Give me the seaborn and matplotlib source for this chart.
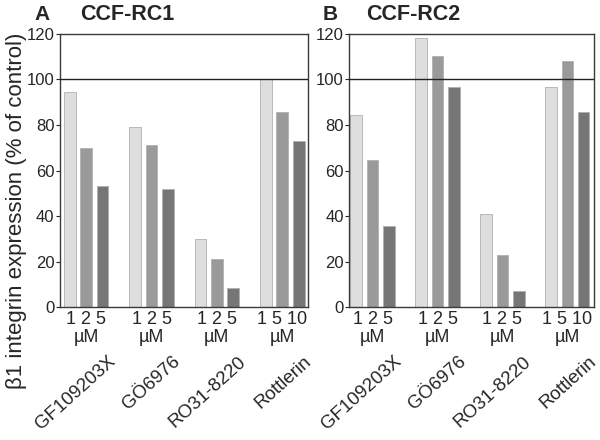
import numpy as np
import pandas as pd
import matplotlib
matplotlib.use("Agg")
import matplotlib.pyplot as plt
import seaborn as sns

# ---------------------------------------------------------
# Data
# ---------------------------------------------------------
drugs = ["GF109203X", "GÖ6976", "RO31-8220", "Rottlerin"]
dose_labels = ["1 2 5\nµM", "1 2 5\nµM", "1 2 5\nµM", "1 5 10\nµM"]
dose_slots = ["low", "mid", "high"]

rc1_values = [
    [94.5, 70, 53],
    [79, 71, 52],
    [30, 21, 8.5],
    [100, 85.5, 73],
]
rc2_values = [
    [84.5, 64.5, 35.5],
    [118, 110.5, 96.5],
    [41, 23, 7],
    [96.5, 108, 85.5],
]

panels = [("A", "CCF-RC1", rc1_values), ("B", "CCF-RC2", rc2_values)]
bar_colors = ["#dedede", "#9a9a9a", "#767676"]


def to_long(values):
    rows = []
    for drug, vals in zip(drugs, values):
        for slot, v in zip(dose_slots, vals):
            rows.append({"drug": drug, "dose": slot, "value": v})
    return pd.DataFrame(rows)


# ---------------------------------------------------------
# Plot
# ---------------------------------------------------------
sns.set_style("white")
plt.rcParams["font.family"] = ["Liberation Sans", "DejaVu Sans"]

fig = plt.figure(figsize=(6, 4.4), dpi=100)
axes = [fig.add_axes([0.100, 0.302, 0.413, 0.621]),
        fig.add_axes([0.582, 0.302, 0.408, 0.621])]
xlims = [(-0.40, 3.39), (-0.36, 3.41)]

for ax, (letter, name, values), xl in zip(axes, panels, xlims):
    df = to_long(values)
    sns.barplot(data=df, x="drug", y="value", hue="dose", order=drugs,
                hue_order=dose_slots, palette=bar_colors, width=0.75,
                gap=0.28, legend=False, ax=ax, saturation=1)
    for p in ax.patches:
        p.set_edgecolor("#b0b0b0")
        p.set_linewidth(0.6)

    ax.axhline(100, color="#222222", lw=1.0, zorder=5)
    ax.set_ylim(0, 120)
    ax.set_yticks(range(0, 121, 20))
    ax.set_xlim(*xl)
    ax.set_xticks(range(len(drugs)))
    ax.set_xticklabels(dose_labels, fontsize=13, linespacing=1.05)
    ax.set_xticks([0.5, 1.5, 2.5], minor=True)
    ax.tick_params(axis="x", which="major", length=0, pad=3)
    ax.tick_params(axis="x", which="minor", length=3, width=0.6,
                   direction="out", colors="#555555")
    ax.tick_params(axis="y", length=3, width=0.8, direction="out",
                   labelsize=12, pad=1, left=True)
    ax.set_xlabel("")
    ax.set_ylabel("")
    for s in ax.spines.values():
        s.set_color("#3a3a3a")
        s.set_linewidth(1.0)

    # rotated drug names below the dose labels
    for i, d in enumerate(drugs):
        ax.annotate(d, xy=(i, 0), xycoords=("data", "axes fraction"),
                    xytext=(15, -33), textcoords="offset points",
                    rotation=42, ha="right", va="top", fontsize=13.5,
                    rotation_mode="anchor")

fig.text(0.058, 0.968, "A", fontsize=15, fontweight="bold", va="center")
fig.text(0.133, 0.968, "CCF-RC1", fontsize=15.5, fontweight="bold", va="center")
fig.text(0.537, 0.968, "B", fontsize=15, fontweight="bold", va="center")
fig.text(0.610, 0.968, "CCF-RC2", fontsize=15.5, fontweight="bold", va="center")

fig.text(0.027, 0.52, "β1 integrin expression (% of control)", rotation=90,
         fontsize=16, ha="center", va="center")

plt.savefig("out.png", dpi=100)
plt.close()
